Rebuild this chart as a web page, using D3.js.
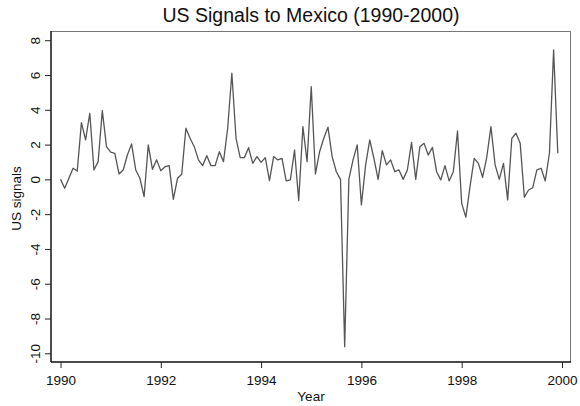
<!DOCTYPE html>
<html>
<head>
<meta charset="utf-8">
<script src="https://cdn.jsdelivr.net/npm/d3@7"></script>
<style>
  html, body { margin: 0; padding: 0; background: #fff; }
  svg { display: block; font-family: "Liberation Sans", Arial, sans-serif; }
</style>
</head>
<body>
<svg id="chart" width="580" height="406"></svg>
<script>
// Monthly US signals to Mexico, January 1990 through December 1999
const startYear = 1990;
const signals = [
  0.00, -0.51, 0.06, 0.64, 0.48, 3.26, 2.27, 3.80, 0.54, 1.02, 3.95, 1.88,
  1.56, 1.50, 0.31, 0.54, 1.40, 2.04, 0.54, 0.06, -0.99, 1.98, 0.58, 1.12,
  0.50, 0.73, 0.79, -1.15, 0.06, 0.29, 2.94, 2.36, 1.88, 1.12, 0.79, 1.36,
  0.79, 0.79, 1.59, 1.02, 2.94, 6.10, 2.36, 1.25, 1.25, 1.82, 0.92, 1.31,
  0.98, 1.25, -0.07, 1.31, 1.12, 1.21, -0.09, -0.03, 1.69, -1.22, 3.03, 1.02,
  5.33, 0.31, 1.59, 2.36, 3.00, 1.31, 0.44, 0.00, -9.62, 0.00, 1.12, 1.98,
  -1.47, 0.80, 2.27, 1.20, 0.00, 1.65, 0.83, 1.12, 0.44, 0.54, 0.00, 0.54,
  2.13, 0.00, 1.88, 2.07, 1.40, 1.84, 0.44, -0.03, 0.79, -0.09, 0.44, 2.78,
  -1.38, -2.18, -0.40, 1.21, 0.92, 0.12, 1.27, 3.03, 0.83, 0.00, 0.92, -1.18,
  2.36, 2.65, 2.07, -1.03, -0.61, -0.48, 0.54, 0.64, -0.09, 1.50, 7.44, 1.50
];
const yearTicks = [1990, 1992, 1994, 1996, 1998, 2000];
const signalTicks = [8, 6, 4, 2, 0, -2, -4, -6, -8, -10];

const titleText = "US Signals to Mexico (1990-2000)";
const xTitle = "Year";
const yTitle = "US signals";

const series = signals.map((v, i) => ({ t: startYear + i / 12, v }));

const svg = d3.select("#chart");
const plot = { left: 51, right: 571, top: 31, bottom: 362 };

const x = d3.scaleLinear()
  .domain([1989.81, 2000.18])
  .range([plot.left, plot.right]);
const y = d3.scaleLinear()
  .domain([-10.5, 8.53])
  .range([plot.bottom, plot.top]);

// Frame: light top/right edges
svg.append("line")
  .attr("x1", plot.left).attr("x2", plot.right)
  .attr("y1", plot.top + 0.5).attr("y2", plot.top + 0.5)
  .attr("stroke", "#777").attr("stroke-width", 1);
svg.append("line")
  .attr("x1", plot.right - 0.5).attr("x2", plot.right - 0.5)
  .attr("y1", plot.top).attr("y2", plot.bottom)
  .attr("stroke", "#777").attr("stroke-width", 1);

// Series line
const line = d3.line().x(d => x(d.t)).y(d => y(d.v));
svg.append("path")
  .datum(series)
  .attr("d", line)
  .attr("fill", "none")
  .attr("stroke", "#555")
  .attr("stroke-width", 1.3)
  .attr("stroke-linejoin", "round");

// Plain hyphen-minus labels
const plainLabel = d => String(d);

// Bottom axis
const xAxis = d3.axisBottom(x)
  .tickValues(yearTicks)
  .tickFormat(plainLabel)
  .tickSize(6)
  .tickSizeOuter(0)
  .tickPadding(7);
const gx = svg.append("g")
  .attr("transform", `translate(0,${plot.bottom})`)
  .call(xAxis);
gx.select(".domain").attr("stroke", "#111").attr("stroke-width", 1.5)
  .attr("d", `M${plot.left},0H${plot.right}`);
gx.selectAll(".tick line").attr("stroke", "#222");
gx.selectAll(".tick text")
  .attr("fill", "#111")
  .style("font-size", "13.5px")
  .style("font-family", "Liberation Sans, Arial, sans-serif");

// Left axis, labels rotated to read upward
const yAxis = d3.axisLeft(y)
  .tickValues(signalTicks)
  .tickFormat(plainLabel)
  .tickSize(6)
  .tickSizeOuter(0);
const gy = svg.append("g")
  .attr("transform", `translate(${plot.left},0)`)
  .call(yAxis);
gy.select(".domain").attr("stroke", "#111").attr("stroke-width", 1.5)
  .attr("d", `M0,${plot.top}V${plot.bottom}`);
gy.selectAll(".tick line").attr("stroke", "#222");
gy.selectAll(".tick text")
  .attr("x", null).attr("dy", null)
  .attr("transform", "translate(-11,0) rotate(-90)")
  .attr("text-anchor", "middle")
  .attr("fill", "#111")
  .style("font-size", "13.5px")
  .style("font-family", "Liberation Sans, Arial, sans-serif");

// Titles
svg.append("text")
  .attr("x", (plot.left + plot.right) / 2)
  .attr("y", 22)
  .attr("text-anchor", "middle")
  .attr("fill", "#111")
  .style("font-size", "19.5px")
  .text(titleText);

svg.append("text")
  .attr("x", (plot.left + plot.right) / 2)
  .attr("y", 401)
  .attr("text-anchor", "middle")
  .attr("fill", "#111")
  .style("font-size", "13.5px")
  .text(xTitle);

svg.append("text")
  .attr("transform", `translate(21,${(plot.top + plot.bottom) / 2 + 2}) rotate(-90)`)
  .attr("text-anchor", "middle")
  .attr("fill", "#111")
  .style("font-size", "13.5px")
  .text(yTitle);
</script>
</body>
</html>
